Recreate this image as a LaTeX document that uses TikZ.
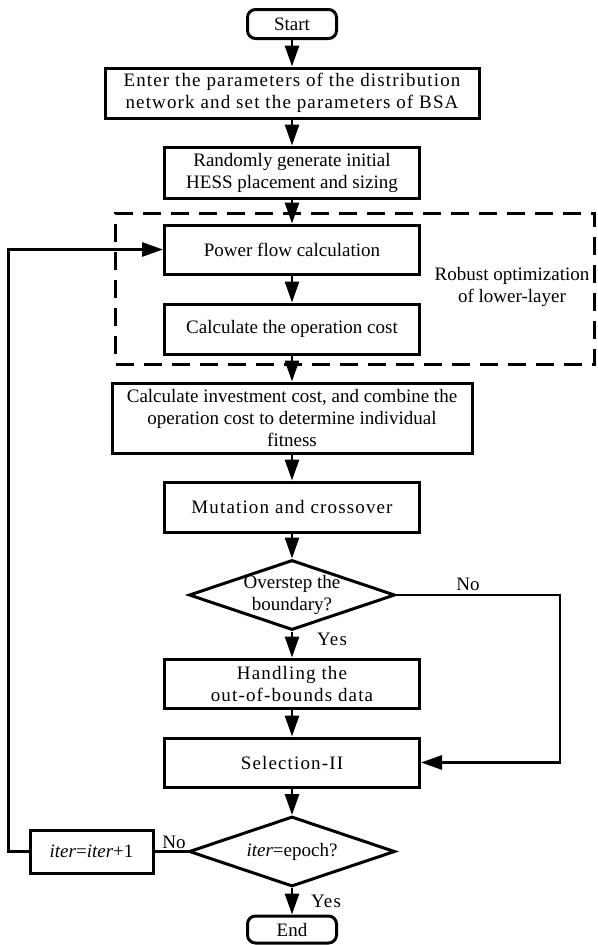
\documentclass[tikz,border=0pt]{standalone}
\usepackage{fontspec}
\setmainfont{Liberation Serif}
\newfontfamily\spaced[LetterSpace=6]{Liberation Serif}
\usetikzlibrary{shapes.geometric,arrows.meta}
\begin{document}
\begin{tikzpicture}[x=1pt,y=-1pt,
  base/.style={font=\fontsize{19}{22}\selectfont},
  sbase/.style={font=\spaced\fontsize{19}{22}\selectfont},
  box/.style={draw, line width=3pt, inner sep=0pt, align=center},
  term/.style={box, rounded corners=8pt, minimum width=89pt},
  dia/.style={draw, diamond, line width=3pt, inner sep=0pt, minimum width=206pt, minimum height=70pt},
  arr/.style={line width=2.8pt, -{Triangle[length=21pt,width=14pt]}},
  plain/.style={line width=2.8pt},
  grpbox/.style={draw, line width=3pt, dash pattern=on 18pt off 10pt, inner sep=0pt}
]
\useasboundingbox (0,0) rectangle (597,945);

\node[grpbox, minimum width=479pt, minimum height=151pt] (grp) at (355,288.5) {};
\node[base, align=center] (rlabel) at (512,287) {Robust optimization\\of lower-layer};

\node[term, base, minimum height=29pt] (start) at (292,24) {Start};
\node[box, sbase, minimum width=374pt, minimum height=50pt] (enter) at (292,93)
  {Enter the parameters of the distribution\\network and set the parameters of BSA};
\node[box, base, minimum width=255pt, minimum height=51pt] (rand) at (292,172.5)
  {Randomly generate initial\\HESS placement and sizing};
\node[box, base, minimum width=255pt, minimum height=49pt] (power) at (292,249.5)
  {Power flow calculation};
\node[box, base, minimum width=255pt, minimum height=50pt] (opcost) at (292,329)
  {Calculate the operation cost};
\node[box, base, minimum width=360pt, minimum height=70pt] (invest) at (292,418)
  {Calculate investment cost, and combine the\\operation cost to determine individual\\fitness};
\node[box, sbase, minimum width=255pt, minimum height=50pt] (mutation) at (292,507)
  {Mutation and crossover};
\node[dia] (d1) at (292,595) {};
\node[base, align=center] (d1t) at (d1.center) {Overstep the\\boundary?};
\node[box, sbase, minimum width=255pt, minimum height=49pt] (handle) at (292,683.5)
  {Handling the\\out-of-bounds data};
\node[box, sbase, minimum width=255pt, minimum height=49pt] (select) at (292,762.5)
  {Selection-II};
\node[dia] (d2) at (292,851.5) {};
\node[base] (d2t) at (d2.center) {\textit{iter}=epoch?};
\node[box, base, minimum width=123pt, minimum height=43pt] (iter) at (91.5,851.5)
  {\textit{iter}=\textit{iter}+1};
\node[term, base, minimum height=27pt] (end) at (292,929.5) {End};

\coordinate (nr) at (560,595);
\coordinate (lp) at (8.5,851.5);

\draw[arr] (start) -- (enter);
\draw[arr] (enter) -- (rand);
\draw[arr] (rand) -- (power);
\draw[arr] (power) -- (opcost);
\draw[arr] (opcost) -- (invest);
\draw[arr] (invest) -- (mutation);
\draw[arr] (mutation) -- (d1);
\draw[arr] (d1.south) -- (handle);
\draw[arr] (handle) -- (select);
\draw[arr] (d1.east) -- (nr) |- (select.east);
\draw[arr] (select) -- (d2);
\draw[arr] (d2.south) -- (end);
\draw[plain] (d2.west) -- (iter.east);
\draw[arr] (iter.west) -- (lp) |- (power.west);

\node[base] (no1) at (468,584) {No};
\node[sbase] (yes1) at (332,639) {Yes};
\node[sbase] (yes2) at (326,901) {Yes};
\node[base] (no2) at (174,842) {No};
\end{tikzpicture}
\end{document}
